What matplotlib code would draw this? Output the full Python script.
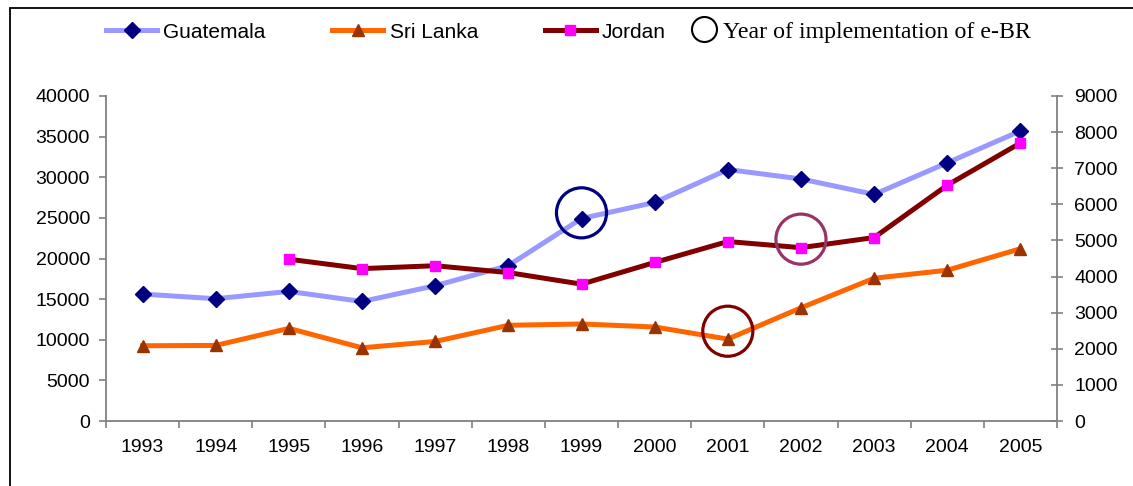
import matplotlib
matplotlib.use("Agg")
import matplotlib.pyplot as plt
from matplotlib.lines import Line2D
from matplotlib.patches import Rectangle
import numpy as np

plt.rcParams['font.family'] = ['Liberation Sans', 'DejaVu Sans']

# data
years = ["1993", "1994", "1995", "1996", "1997", "1998", "1999",
         "2000", "2001", "2002", "2003", "2004", "2005"]
guatemala = [15620, 15050, 15950, 14710, 16650, 19130, 24920,
             26900, 30950, 29790, 27890, 31780, 35700]
sri_lanka = [9260, 9300, 11400, 9010, 9790, 11780, 11940,
             11570, 10080, 13930, 17570, 18560, 21200]
# Jordan is on the right hand axis, starts in 1995
jordan_years = ["1995", "1996", "1997", "1998", "1999", "2000",
                "2001", "2002", "2003", "2004", "2005"]
jordan = [4480, 4220, 4300, 4110, 3790, 4390, 4970, 4800, 5080, 6530, 7700]

# year of implementation of e-BR (circles)
ebr_guatemala = ("1999", 25620)
ebr_sri_lanka = ("2001", 11050)
ebr_jordan = ("2002", 5036)

left_ticks = [0, 5000, 10000, 15000, 20000, 25000, 30000, 35000, 40000]
right_ticks = [0, 1000, 2000, 3000, 4000, 5000, 6000, 7000, 8000, 9000]

W, H = 1133, 486
fig = plt.figure(figsize=(W / 100, H / 100), dpi=100)
ax = fig.add_axes([106 / W, 1 - 421 / H, (1057 - 106) / W, (421 - 96) / H])
ax2 = ax.twinx()

x = np.arange(len(years))
xj = [years.index(y) for y in jordan_years]

ax.plot(x, guatemala, color="#9999FF", lw=3.6, marker="D", ms=8.5,
        mfc="#000080", mec="#000080", label="Guatemala", zorder=3)
ax.plot(x, sri_lanka, color="#FF6600", lw=3.6, marker="^", ms=9,
        mfc="#993300", mec="#993300", label="Sri Lanka", zorder=3)
ax2.plot(xj, jordan, color="#800000", lw=3.6, marker="s", ms=7.5,
         mfc="#FF00FF", mec="#FF00FF", label="Jordan", zorder=3)

# circles
ax.scatter([years.index(ebr_guatemala[0])], [ebr_guatemala[1]], s=1300,
           facecolors="none", edgecolors="#000080", linewidths=2.3, zorder=5)
ax.scatter([years.index(ebr_sri_lanka[0])], [ebr_sri_lanka[1]], s=1300,
           facecolors="none", edgecolors="#800000", linewidths=2.3, zorder=5)
ax2.scatter([years.index(ebr_jordan[0])], [ebr_jordan[1]], s=1300,
            facecolors="none", edgecolors="#993366", linewidths=2.3, zorder=5)

ax.set_xlim(-0.5, len(years) - 0.5)
ax.set_ylim(0, 40000)
ax2.set_ylim(0, 9000)
ax.set_yticks(left_ticks)
ax2.set_yticks(right_ticks)
ax.set_xticks(x)
ax.set_xticklabels(years)
ax.set_xticks(np.arange(len(years) + 1) - 0.5, minor=True)

gray = "#808080"
for a in (ax, ax2):
    a.spines['top'].set_visible(False)
    for s in ('left', 'right', 'bottom'):
        a.spines[s].set_color(gray)
        a.spines[s].set_linewidth(1.3)
ax.spines['right'].set_visible(False)
ax2.spines['left'].set_visible(False)
ax2.spines['bottom'].set_visible(False)

ax.tick_params(axis='y', direction='out', length=5, width=1.2, color=gray,
               labelsize=14, pad=6.5)
ax.tick_params(axis='x', which='major', length=0, labelsize=14, pad=13)
ax.tick_params(axis='x', which='minor', direction='out', length=5, width=1.2,
               color=gray)
ax2.tick_params(axis='y', direction='inout', length=9, width=1.2, color=gray,
                labelsize=14, pad=8)

# legend on top: three series, then the circle entry
handles = [
    Line2D([], [], color="#9999FF", lw=3.6, marker="D", ms=8.5,
           mfc="#000080", mec="#000080"),
    Line2D([], [], color="#FF6600", lw=3.6, marker="^", ms=9,
           mfc="#993300", mec="#993300"),
    Line2D([], [], color="#800000", lw=3.6, marker="s", ms=7.5,
           mfc="#FF00FF", mec="#FF00FF"),
]
leg = fig.legend(handles, ["Guatemala", "Sri Lanka", "Jordan"], ncol=3,
                 loc="center left", bbox_to_anchor=(106 / W, 1 - 32 / H),
                 frameon=False, fontsize=15, handlelength=2.45,
                 handletextpad=0.3, columnspacing=3.2, borderpad=0,
                 borderaxespad=0)
circ = Line2D([], [], ls="none", marker="o", ms=18, mfc="none", mec="black",
              mew=1.5)
leg2 = fig.legend([circ], ["Year of implementation of e-BR"],
                  loc="center left", bbox_to_anchor=(691 / W, 1 - 32 / H),
                  frameon=False, handlelength=1.1, handletextpad=0.25,
                  borderpad=0, borderaxespad=0,
                  prop={'family': ['Liberation Serif', 'DejaVu Serif'],
                        'size': 17.2})

# outer frame (only left and top edges are in view)
fig.add_artist(Rectangle((10 / W, -0.5), 1.5, 0.5 + 1 - 8 / H,
                         transform=fig.transFigure, fill=False,
                         edgecolor="black", lw=1.3))

fig.savefig("out.png", dpi=100)
